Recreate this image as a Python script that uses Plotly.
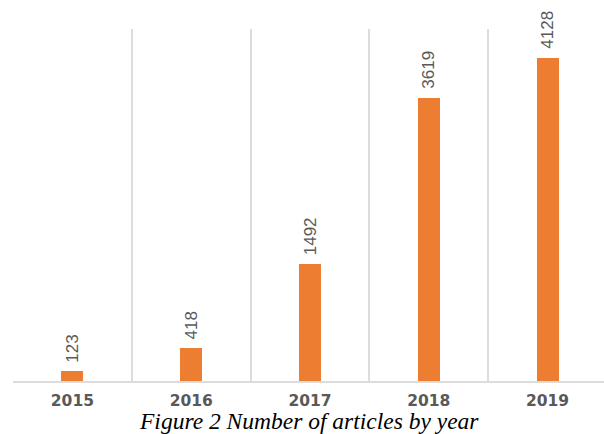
import plotly.graph_objects as go

# Articles published per year
years = ["2015", "2016", "2017", "2018", "2019"]
articles = [123, 418, 1492, 3619, 4128]

BAR_COLOR = "#ED7D31"
TEXT_GRAY = "#595959"
GRID_GRAY = "#DCDCDC"

fig = go.Figure()
fig.add_trace(go.Bar(
    x=years,
    y=articles,
    width=0.185,
    marker=dict(color=BAR_COLOR, line=dict(width=0)),
    hoverinfo="x+y",
))

# Value labels rotated above each bar (category axis: positions by index)
for i, n in enumerate(articles):
    fig.add_annotation(
        x=i, y=n, text=str(n), textangle=-90,
        showarrow=False, xanchor="center", yanchor="bottom", yshift=7,
        font=dict(family="Liberation Sans, Arial", size=17, color=TEXT_GRAY),
    )

# Caption below the axis
fig.add_annotation(
    xref="paper", yref="paper", x=0.5, y=0, xanchor="center", yanchor="top",
    yshift=-25, showarrow=False,
    text="Figure 2 Number of articles by year",
    font=dict(family="Liberation Serif, Times New Roman", size=23.5, color="#000000", style="italic"),
)

fig.update_layout(
    width=604, height=434,
    margin=dict(l=13, r=0, t=29, b=53),
    paper_bgcolor="white", plot_bgcolor="white",
    showlegend=False,
    bargap=0,
)
fig.update_xaxes(
    type="category",
    range=[-0.5, 4.475],
    tickson="boundaries",
    showgrid=True, gridcolor=GRID_GRAY, gridwidth=1.5,
    showline=True, linecolor=GRID_GRAY, linewidth=1.5,
    ticks="", ticklabelstandoff=5,
    tickfont=dict(family="DejaVu Sans", size=15.5, color=TEXT_GRAY, weight="bold"),
    zeroline=False,
)
fig.update_yaxes(
    range=[0, 4500],
    showgrid=False, showticklabels=False, zeroline=False, showline=False, ticks="",
)

fig.write_html("out.html")
